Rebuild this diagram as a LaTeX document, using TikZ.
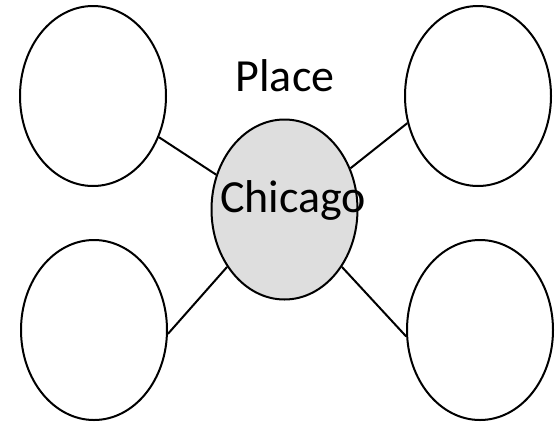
\documentclass[tikz,border=0pt]{standalone}
\usepackage{fontspec}
\setmainfont{Carlito}
\usetikzlibrary{shapes.geometric, positioning}

\begin{document}
\begin{tikzpicture}[x=1pt, y=-1pt, every node/.style={inner sep=0pt},
    bubble/.style={draw, ellipse, line width=2pt, minimum width=146pt, minimum height=180pt},
    link/.style={line width=2pt},
    bigtext/.style={font=\fontsize{46}{50}\selectfont, anchor=base}]
    \useasboundingbox (0,0) rectangle (557,424);
    \node[bubble, fill=black!13] (chicago) at (284.5,209.5) {};
    \foreach \n/\x/\y in {tl/93/96,tr/478/96,bl/94/330,br/480/330} {
        \node[bubble] (\n) at (\x,\y) {};
    }
    \node[bigtext] (placelabel) at (285,91) {Place};
    \node[bigtext] (citylabel) at (293,212) {Chicago};
    \draw[link] (tl.-32) -- (chicago.153);
    \draw[link] (tr.201) -- (chicago.32);
    \draw[link] (bl.-3) -- (chicago.225);
    \draw[link] (br.185) -- (chicago.-45);
\end{tikzpicture}
\end{document}
